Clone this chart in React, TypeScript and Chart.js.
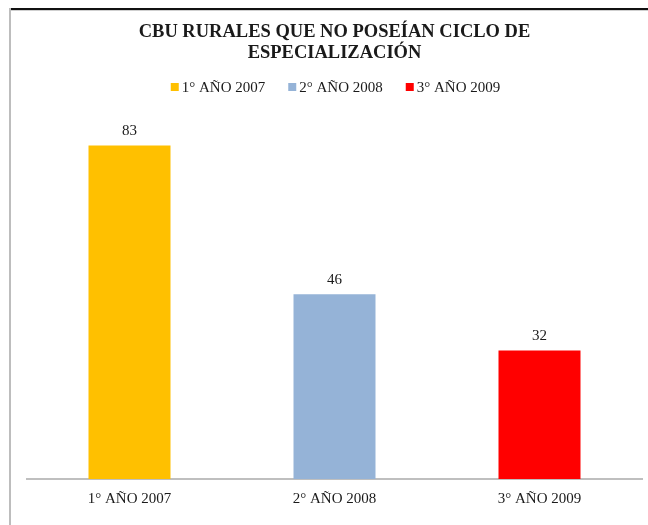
import React, { useEffect, useRef } from "react";
import { Chart, registerables } from "chart.js";

Chart.register(...registerables);

const categories = ["1° AÑO 2007", "2° AÑO 2008", "3° AÑO 2009"];
const values = [83, 46, 32];
const barColors = ["#FFC000", "#95B3D7", "#FF0000"];
const titleLines = ["CBU RURALES QUE NO POSEÍAN CICLO DE", "ESPECIALIZACIÓN"];
const yMin = 0;
const yMax = 90;

const FONT = '"Liberation Serif", "Times New Roman", serif';

const valueLabelPlugin = {
  id: "valueLabels",
  afterDatasetsDraw(chart: any) {
    const ctx = chart.ctx;
    const meta = chart.getDatasetMeta(0);
    ctx.save();
    ctx.font = `15px ${FONT}`;
    ctx.fillStyle = "#1a1a1a";
    ctx.textAlign = "center";
    ctx.textBaseline = "middle";
    meta.data.forEach((bar: any, i: number) => {
      ctx.fillText(String(values[i]), bar.x, bar.y - 14);
    });
    ctx.restore();
  },
};

const customLegendPlugin = {
  id: "customLegend",
  afterDraw(chart: any) {
    const ctx = chart.ctx;
    const area = chart.chartArea;
    ctx.save();
    ctx.font = `15px ${FONT}`;
    const box = 8;
    const boxGap = 3;
    const itemGap = 23;
    const widths = categories.map((c) => ctx.measureText(c).width);
    const total =
      widths.reduce((a, b) => a + b, 0) +
      categories.length * (box + boxGap) +
      (categories.length - 1) * itemGap;
    let x = (area.left + area.right) / 2 - total / 2 + 1;
    const cy = 87;
    ctx.textBaseline = "middle";
    ctx.textAlign = "left";
    categories.forEach((c, i) => {
      ctx.fillStyle = barColors[i];
      ctx.fillRect(x, cy - box / 2, box, box);
      x += box + boxGap;
      ctx.fillStyle = "#1a1a1a";
      ctx.fillText(c, x, cy + 1);
      x += widths[i] + itemGap;
    });
    ctx.restore();
  },
};

export default function App() {
  const canvasRef = useRef<HTMLCanvasElement | null>(null);

  useEffect(() => {
    if (!canvasRef.current) return;
    const chart = new Chart(canvasRef.current, {
      type: "bar",
      data: {
        labels: categories,
        datasets: [
          {
            data: values,
            backgroundColor: barColors,
            borderWidth: 0,
            barPercentage: 0.4,
            categoryPercentage: 1,
          },
        ],
      },
      options: {
        responsive: false,
        animation: false,
        layout: { padding: { top: 20, left: 27, right: 6, bottom: 6 } },
        plugins: {
          legend: { display: false },
          tooltip: { enabled: false },
          title: {
            display: true,
            text: titleLines,
            color: "#1a1a1a",
            font: { family: FONT, size: 18.5, weight: "bold", lineHeight: 1.12 },
            padding: { top: 2, bottom: 54 },
          },
        },
        scales: {
          x: {
            grid: { display: false, drawTicks: false },
            border: { display: true, color: "#bfbfbf", width: 2 },
            ticks: {
              color: "#1a1a1a",
              font: { family: FONT, size: 15 },
              padding: 11,
            },
          },
          y: {
            display: false,
            min: yMin,
            max: yMax,
          },
        },
      },
      plugins: [valueLabelPlugin, customLegendPlugin],
    });
    return () => chart.destroy();
  }, []);

  return (
    <div style={{ position: "absolute", left: 0, top: 0, width: 648, height: 525, background: "#fff" }}>
      <canvas ref={canvasRef} width={648} height={525} style={{ position: "absolute", left: 0, top: 0 }} />
      <div style={{ position: "absolute", left: 10, top: 8, width: 638, height: 2, background: "#111" }} />
      <div style={{ position: "absolute", left: 10, top: 10, width: 638, height: 1, background: "#cfcfcf" }} />
      <div style={{ position: "absolute", left: 9, top: 8, width: 2, height: 517, background: "#bdbdbd" }} />
    </div>
  );
}
